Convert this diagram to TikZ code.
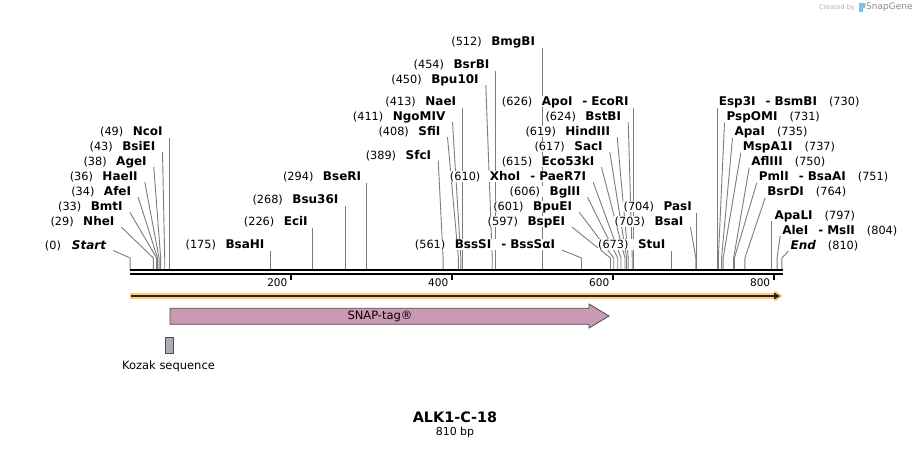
\documentclass[tikz,border=0pt]{standalone}
\usepackage{fontspec}
\setmainfont{DejaVu Sans}
\pgfdeclarelayer{bg}
\pgfdeclarelayer{paper}
\pgfsetlayers{paper,bg,main}
\definecolor{cutgray}{RGB}{125,125,125}
\definecolor{halo}{RGB}{253,204,120}
\definecolor{snap}{RGB}{204,153,180}
\definecolor{kozak}{RGB}{168,173,182}
\definecolor{sgblue}{RGB}{120,195,235}
\newcommand\nm[1]{{\fontsize{12}{14}\selectfont\bfseries #1}}
\newcommand\nmi[1]{{\fontsize{12}{14}\selectfont\bfseries\itshape #1}}
\newcommand\nb[1]{{\fontsize{11.3}{13}\selectfont(#1)}}
\newcommand\dsh{\hspace{10pt}-\hspace{4pt}}
\newcommand\bpx[1]{130.1+0.8047*#1}
\tikzset{
  lab/.style={inner sep=0.4pt, fill=white, text height=9.3pt, text depth=1.2pt},
  cut/.style={draw=cutgray, line width=0.9pt},
  barline/.style={line width=2pt, black},
  tickmark/.style={line width=2pt, black},
  ticklab/.style={font=\fontsize{10.5}{12}\selectfont, anchor=east, inner sep=0pt},
}
% left-side label, diagonal connector
\newcommand\LD[5]{%
  \node[lab,anchor=east] (#1) at (#3,#4) {#5};
  \coordinate (#1b) at ({\bpx{#2}},270);
  \coordinate (#1k) at ({\bpx{#2}},258);
  \coordinate (#1t) at (#3+6.5,#4+5.5);
  \begin{pgfonlayer}{bg}\draw[cut] (#1b) -- (#1k) -- (#1t);\end{pgfonlayer}}
% left-side label, vertical connector
\newcommand\LV[5]{%
  \node[lab,anchor=east] (#1) at (#3,#4) {#5};
  \coordinate (#1b) at ({\bpx{#2}},270);
  \coordinate (#1t) at ({\bpx{#2}},#4+6);
  \begin{pgfonlayer}{bg}\draw[cut] (#1b) -- (#1t);\end{pgfonlayer}}
% right-side label, diagonal connector
\newcommand\RD[5]{%
  \node[lab,anchor=west] (#1) at (#3,#4) {#5};
  \coordinate (#1b) at ({\bpx{#2}},270);
  \coordinate (#1k) at ({\bpx{#2}},258);
  \coordinate (#1t) at (#3-1.5,#4+6);
  \begin{pgfonlayer}{bg}\draw[cut] (#1b) -- (#1k) -- (#1t);\end{pgfonlayer}}
% right-side label, vertical connector
\newcommand\RV[5]{%
  \node[lab,anchor=west] (#1) at (#3,#4) {#5};
  \coordinate (#1b) at ({\bpx{#2}},270);
  \coordinate (#1t) at ({\bpx{#2}},#4+6);
  \begin{pgfonlayer}{bg}\draw[cut] (#1b) -- (#1t);\end{pgfonlayer}}
\begin{document}
\begin{tikzpicture}[x=1pt,y=-1pt]
\begin{pgfonlayer}{paper}
\fill[white] (0,0) rectangle (914,448);
\end{pgfonlayer}
\useasboundingbox (0,0) rectangle (914,448);

% watermark
\node[anchor=east, inner sep=0pt, text=black!30] (cb) at (855,7.5) {\fontsize{6.5}{8}\selectfont Created by};
\fill[sgblue] (859,3) rectangle (862.5,12);
\fill[sgblue] (859,3) -- (864.5,3) .. controls (866,3) and (866,8) .. (864.5,8) -- (859,8) -- cycle;
\node[anchor=west, inner sep=0pt, text=black!45] (sg) at (866,7.5) {\fontsize{9}{10}\selectfont SnapGene};

% backbone
\coordinate (b0) at (130,270);
\coordinate (b1) at (783,270);
\coordinate (c0) at (130,274);
\coordinate (c1) at (783,274);
\draw[barline] (b0) -- (b1);
\draw[barline] (c0) -- (c1);

% ticks
\foreach \v/\n in {200/t2,400/t4,600/t6,800/t8}{
  \coordinate (\n a) at ({\bpx{\v}},274);
  \coordinate (\n b) at ({\bpx{\v}},280);
  \draw[tickmark] (\n a) -- (\n b);
  \node[ticklab] (\n l) at ({\bpx{\v}-3.5},282.5) {\v};
}

% enzyme sites, left group
\LD{start}{0}{106.7}{245}{\nb{0}\hspace{11pt}\nmi{Start}}
\LD{nhe}{29}{115}{221.7}{\nb{29}\hspace{9.5pt}\nm{NheI}}
\LD{bmt}{33}{123.3}{206.7}{\nb{33}\hspace{9.5pt}\nm{BmtI}}
\LD{afe}{34}{131.7}{191.7}{\nb{34}\hspace{9.5pt}\nm{AfeI}}
\LD{hae}{36}{138.3}{176.7}{\nb{36}\hspace{9.5pt}\nm{HaeII}}
\LD{age}{38}{147.3}{161.7}{\nb{38}\hspace{9.5pt}\nm{AgeI}}
\LD{bsie}{43}{156}{146.7}{\nb{43}\hspace{9.5pt}\nm{BsiEI}}
\LV{nco}{49}{163.3}{131.7}{\nb{49}\hspace{9.5pt}\nm{NcoI}}
% middle group
\LV{bsah}{175}{265}{244.7}{\nb{175}\hspace{9.5pt}\nm{BsaHI}}
\LV{eci}{226}{308.3}{221.7}{\nb{226}\hspace{9.5pt}\nm{EciI}}
\LV{bsu}{268}{339}{199.7}{\nb{268}\hspace{9.5pt}\nm{Bsu36I}}
\LV{bser}{294}{361.7}{176.7}{\nb{294}\hspace{9.5pt}\nm{BseRI}}
\LD{sfc}{389}{431.7}{155}{\nb{389}\hspace{9.5pt}\nm{SfcI}}
\LD{sfi}{408}{441}{131.7}{\nb{408}\hspace{9.5pt}\nm{SfiI}}
\LD{ngo}{411}{446}{116.7}{\nb{411}\hspace{9.5pt}\nm{NgoMIV}}
\LV{nae}{413}{456.7}{101.7}{\nb{413}\hspace{9.5pt}\nm{NaeI}}
\LD{bpu}{450}{479.3}{79.7}{\nb{450}\hspace{9.5pt}\nm{Bpu10I}}
\LV{bsrb}{454}{490}{64.7}{\nb{454}\hspace{9.5pt}\nm{BsrBI}}
\LV{bmgb}{512}{535.7}{41.7}{\nb{512}\hspace{9.5pt}\nm{BmgBI}}
\LD{bsss}{561}{555.7}{244.7}{\nb{561}\hspace{9.5pt}\nm{BssSI\dsh BssSαI}}
\LD{bspe}{597}{565.7}{221.7}{\nb{597}\hspace{9.5pt}\nm{BspEI}}
\LD{bpue}{601}{572.7}{206.7}{\nb{601}\hspace{9.5pt}\nm{BpuEI}}
\LD{bgl}{606}{581}{191.7}{\nb{606}\hspace{9.5pt}\nm{BglII}}
\LD{xho}{610}{586.7}{176.7}{\nb{610}\hspace{9.5pt}\nm{XhoI\dsh PaeR7I}}
\LD{ecok}{615}{595}{161.7}{\nb{615}\hspace{9.5pt}\nm{Eco53kI}}
\LD{sac}{617}{603.3}{146.7}{\nb{617}\hspace{9.5pt}\nm{SacI}}
\LD{hind}{619}{610.7}{131.7}{\nb{619}\hspace{9.5pt}\nm{HindIII}}
\LD{bstb}{624}{621.7}{116.7}{\nb{624}\hspace{9.5pt}\nm{BstBI}}
\LV{apo}{626}{629.3}{101.7}{\nb{626}\hspace{9.5pt}\nm{ApoI\dsh EcoRI}}
\LV{stu}{673}{666}{244.7}{\nb{673}\hspace{9.5pt}\nm{StuI}}
\LD{bsa}{703}{684}{221.7}{\nb{703}\hspace{9.5pt}\nm{BsaI}}
\LV{pas}{704}{692.3}{206.7}{\nb{704}\hspace{9.5pt}\nm{PasI}}
% right group
\RV{esp}{730}{718.3}{101.7}{\nm{Esp3I\dsh BsmBI}\hspace{12pt}\nb{730}}
\RD{pspo}{731}{726}{116.7}{\nm{PspOMI}\hspace{12pt}\nb{731}}
\RD{apa}{735}{734}{131.7}{\nm{ApaI}\hspace{12pt}\nb{735}}
\RD{mspa}{737}{742.3}{146.7}{\nm{MspA1I}\hspace{12pt}\nb{737}}
\RD{afl}{750}{750.7}{161.7}{\nm{AflIII}\hspace{12pt}\nb{750}}
\RD{pml}{751}{758.3}{176.7}{\nm{PmlI\dsh BsaAI}\hspace{12pt}\nb{751}}
\RD{bsrd}{764}{766.7}{191.7}{\nm{BsrDI}\hspace{12pt}\nb{764}}
\RV{apal}{797}{774}{215}{\nm{ApaLI}\hspace{12pt}\nb{797}}
\RD{ale}{804}{781.7}{230}{\nm{AleI\dsh MslI}\hspace{12pt}\nb{804}}
\RD{end}{810}{790}{245}{\nmi{End}\hspace{12pt}\nb{810}}

% ORF arrow (orange halo)
\fill[halo] (130,292.8) -- (775,292.8) -- (775,290.3) -- (782.5,296) -- (775,301.7) -- (775,299.2) -- (130,299.2) -- cycle;
\draw[line width=1.6pt, black!85] (131,296) -- (775,296);
\fill[black!85] (774,292.4) -- (780,296) -- (774,299.6) -- cycle;

% SNAP-tag feature
\draw[fill=snap, draw=black!70, line width=0.8pt] (170,308.3) -- (589,308.3) -- (589,304) -- (609,316) -- (589,328) -- (589,324.3) -- (170,324.3) -- cycle;
\node[inner sep=0pt] (snaplab) at (380,316) {\fontsize{11.5}{13}\selectfont SNAP-tag®};

% Kozak sequence
\draw[fill=kozak, draw=black!70, line width=0.8pt] (165,337.3) rectangle (173.7,353.3);
\node[inner sep=0pt] (kozlab) at (168.5,366.7) {\fontsize{11.5}{13}\selectfont Kozak sequence};

% title
\node[inner sep=0pt] (title) at (455,417) {\fontsize{14.4}{16}\selectfont\bfseries ALK1-C-18};
\node[inner sep=0pt] (len) at (455,432.5) {\fontsize{11}{13}\selectfont 810 bp};
\end{tikzpicture}
\end{document}
